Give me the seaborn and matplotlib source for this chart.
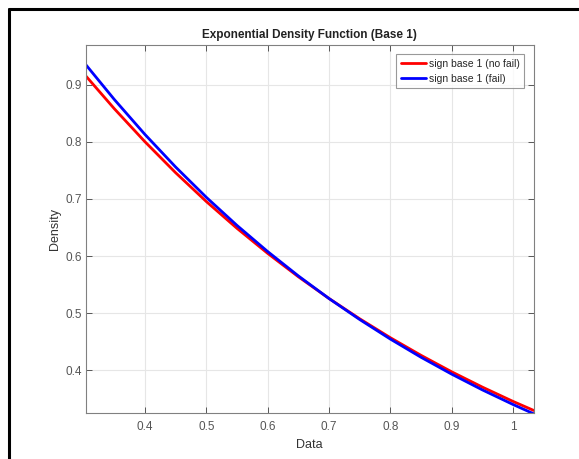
import numpy as np
import pandas as pd
import matplotlib
matplotlib.use("Agg")
import matplotlib.pyplot as plt
import seaborn as sns
from matplotlib.lines import Line2D

x_vals = [0.3034, 0.35, 0.40, 0.45, 0.50, 0.55, 0.60, 0.65, 0.70, 0.75,
          0.80, 0.85, 0.90, 0.95, 1.00, 1.0337]
y_nofail = [0.916, 0.8583, 0.8003, 0.7460, 0.6955, 0.6485, 0.6046, 0.5636,
            0.5255, 0.4899, 0.4567, 0.4258, 0.3969, 0.3701, 0.3450, 0.3292]
y_fail = [0.9357, 0.8745, 0.8131, 0.7560, 0.7029, 0.6536, 0.6078, 0.5651,
          0.5254, 0.4886, 0.4543, 0.4224, 0.3928, 0.3652, 0.3396, 0.3233]
series_names = ["sign base 1 (no fail)", "sign base 1 (fail)"]
series_colors = ["#ff0000", "#0000ff"]
x_ticks = [0.4, 0.5, 0.6, 0.7, 0.8, 0.9, 1.0]
x_tick_labels = ["0.4", "0.5", "0.6", "0.7", "0.8", "0.9", "1"]
y_ticks = [0.4, 0.5, 0.6, 0.7, 0.8, 0.9]
y_tick_labels = ["0.4", "0.5", "0.6", "0.7", "0.8", "0.9"]

df = pd.DataFrame({
    "Data": x_vals * 2,
    "Density": y_nofail + y_fail,
    "series": [series_names[0]] * len(x_vals) + [series_names[1]] * len(x_vals),
})

sns.set_style("white")
plt.rcParams["font.family"] = ["Liberation Sans", "DejaVu Sans"]

fig = plt.figure(figsize=(5.79, 4.59), dpi=100)
ax = fig.add_axes([0.148, 0.100, 0.774, 0.802])

sns.lineplot(data=df, x="Data", y="Density", hue="series",
             palette=dict(zip(series_names, series_colors)),
             hue_order=series_names, linewidth=2.0, ax=ax)

ax.set_xlim(0.3034, 1.0337)
ax.set_ylim(0.3246, 0.970)
ax.set_xticks(x_ticks)
ax.set_xticklabels(x_tick_labels)
ax.set_yticks(y_ticks)
ax.set_yticklabels(y_tick_labels)
ax.grid(True, color="#e6e6e6", linewidth=0.8)
ax.set_axisbelow(True)
for s in ax.spines.values():
    s.set_color("#808080")
    s.set_linewidth(0.8)
ax.tick_params(direction="in", length=4, width=0.6, color="#404040",
               labelsize=8.5, labelcolor="#555555", top=True, right=True,
               bottom=True, left=True)
ax.tick_params(axis="y", pad=3)
ax.tick_params(axis="x", pad=6)
ax.set_xlabel("Data", fontsize=9, color="#333333", labelpad=4)
ax.set_ylabel("Density", fontsize=9, color="#333333", labelpad=3)
ax.set_title("Exponential Density Function (Base 1)", fontsize=8.5,
             fontweight="bold", color="#222222", pad=5)

leg = ax.legend(loc="upper right", fontsize=7.5, frameon=True, fancybox=False,
                edgecolor="#808080", borderpad=0.45, handlelength=2.4,
                labelspacing=0.45, handletextpad=0.3, borderaxespad=0.9)
leg.get_frame().set_linewidth(0.8)

# outer black frame (top & left)
fig.add_artist(Line2D([9/579, 9/579], [0, 1 - 9/459], color="black",
                      linewidth=2.2, transform=fig.transFigure))
fig.add_artist(Line2D([9/579, 1], [1 - 9/459, 1 - 9/459], color="black",
                      linewidth=2.2, transform=fig.transFigure))

fig.savefig("out.png", dpi=100)
